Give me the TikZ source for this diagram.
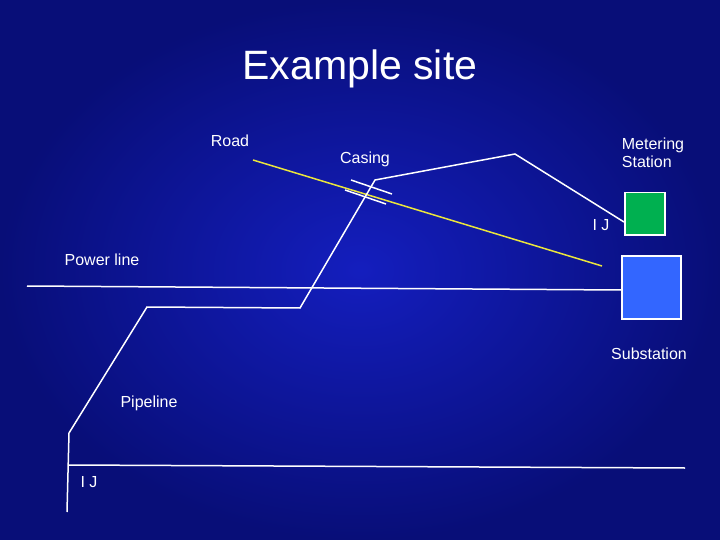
\documentclass[tikz,border=0pt]{standalone}
\usepackage{fontspec}
\setmainfont{Liberation Sans}
\definecolor{bg}{RGB}{20,30,190}
\definecolor{bgdark}{RGB}{8,14,120}
\definecolor{road}{RGB}{235,230,60}
\definecolor{grn}{RGB}{0,176,80}
\definecolor{blu}{RGB}{51,102,255}
\begin{document}
\begin{tikzpicture}[x=1pt,y=-1pt,
  lbl/.style={text=white,font=\fontsize{16}{18}\selectfont,align=center,inner sep=0pt},
  pipe/.style={white,line width=1.5pt},
  box/.style={draw=white,line width=1.5pt,minimum size=0pt,inner sep=0pt}]
\useasboundingbox (0,0) rectangle (720,540);
\shade[inner color=bg,outer color=bgdark] (0,0) rectangle (720,540);
\node[text=white,font=\fontsize{41}{44}\selectfont] (title) at (360,69) {Example site};
\node[lbl] (road) at (230,141) {Road};
\node[lbl] (casing) at (365,159) {Casing};
\node[lbl,align=left] (meter) at (653,153) {Metering\\Station};
\node[lbl] (ij1) at (601,225) {I J};
\node[lbl] (power) at (102,260) {Power line};
\node[lbl] (sub) at (649,354) {Substation};
\node[lbl] (pipel) at (149,403) {Pipeline};
\node[lbl] (ij2) at (89,482) {I J};
\node[box,fill=grn,minimum width=40pt,minimum height=42pt,anchor=north west] (ms) at (624,192) {};
\node[box,fill=blu,minimum width=59pt,minimum height=63pt,anchor=north west] (ss) at (621,255) {};
\coordinate (r1) at (253,160); \coordinate (r2) at (602,266);
\draw[road,line width=1.5pt] (r1) -- (r2);
\draw[pipe] (ms.west|-0,222) -- (515,154) -- (375,180) -- (300,308) -- (147,307) -- (69,433) -- (67,512);
\coordinate (c1) at (351,180); \coordinate (c2) at (392,194);
\coordinate (c3) at (345,190); \coordinate (c4) at (386,204);
\draw[pipe] (c1) -- (c2); \draw[pipe] (c3) -- (c4);
\coordinate (pl) at (27,286);
\draw[pipe] (pl) -- (ss.west|-0,290);
\coordinate (b1) at (69,465); \coordinate (b2) at (685,468);
\draw[pipe] (b1) -- (b2);
\end{tikzpicture}
\end{document}
